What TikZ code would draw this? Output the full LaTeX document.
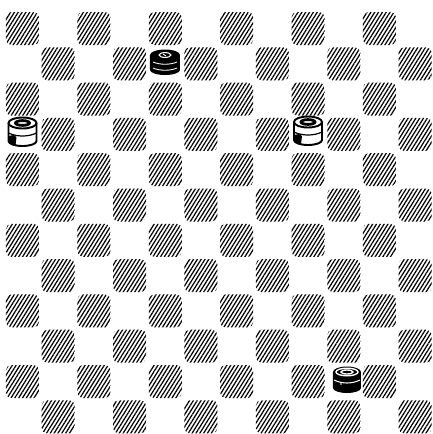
\documentclass[tikz,border=0pt]{standalone}
\usetikzlibrary{patterns.meta}

\tikzset{
  darksq/.style={pattern={Lines[angle=58,distance=1.85pt,line width=0.7pt]},
    rounded corners=3},
  rim/.style={line width=1.1pt},
  % white man: white drum with a dark ring on top
  whiteman/.pic={
    \draw[rim, fill=white] (-14,-9) -- (-14,9)
      arc[start angle=180, end angle=0, x radius=14, y radius=5] -- (14,-9);
    \fill (-14,4) -- (-14,9) arc[start angle=180, end angle=120, x radius=14, y radius=5]
      -- (-6,5) -- (-9,3) -- cycle;
    \draw[line width=0.7pt] (-14,1) .. controls (-6,5) and (6,5) .. (14,1);
    \draw[rim, fill=white] (0,-9) ellipse[x radius=14, y radius=5.5];
    \draw[line width=1.6pt] (0,-9) ellipse[x radius=7, y radius=2.4];
  },
  % black king: two stacked black men
  blackking/.pic={
    \fill (-15,-7) -- (-15,8)
      arc[start angle=180, end angle=0, x radius=15, y radius=5] -- (15,-7);
    \fill (0,-7) ellipse[x radius=15, y radius=5.5];
    \draw[white, line width=0.5pt] (-12,0) .. controls (-5,3) and (5,3) .. (12,0);
    \draw[white, line width=0.5pt] (-12,6) .. controls (-5,9) and (5,9) .. (12,6);
    \draw[white, line width=0.6pt] (0,-7) ellipse[x radius=6, y radius=2.4];
    \draw[white, line width=0.5pt] (-2,-8) -- (1,-6);
  },
  % black man: black drum with a white rim on top
  blackman/.pic={
    \fill (-14,-8) -- (-14,8)
      arc[start angle=180, end angle=0, x radius=14, y radius=5] -- (14,-8);
    \fill (0,-8) ellipse[x radius=14, y radius=5.5];
    \draw[white, line width=0.8pt] (0,-8) ellipse[x radius=11, y radius=3.8];
    \draw[white, line width=0.8pt] (0,-8) ellipse[x radius=6, y radius=2];
    \draw[white, line width=0.6pt] (-13,0) .. controls (-5,4) and (5,4) .. (13,0);
    \fill[white] (-6,4) circle[radius=0.8];
  }
}

\begin{document}
\begin{tikzpicture}[x=0.02cm, y=-0.02cm]
  \useasboundingbox (0,0) rectangle (433,434);
  % board, 12 x 12
  \foreach \r in {0,...,11}
    \foreach \c in {0,...,11} {
      \pgfmathtruncatemacro{\odd}{mod(\r+\c,2)}
      \ifnum\odd=0
        \path[darksq] ({6+35.7*\c},{12+35.3*\r}) rectangle ++(33,33);
      \fi
    }
  % pieces
  \pic at (165,62) {blackking};
  \pic at (22.5,132) {whiteman};
  \pic at (308,131) {whiteman};
  \pic at (347,380) {blackman};
\end{tikzpicture}
\end{document}
